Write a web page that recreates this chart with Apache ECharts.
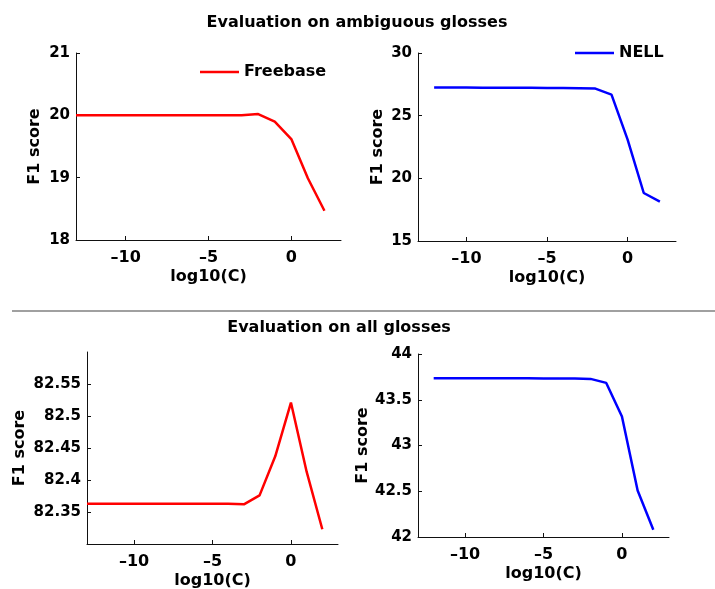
<!DOCTYPE html>
<html><head><meta charset="utf-8">
<script src="https://cdn.jsdelivr.net/npm/echarts@6/dist/echarts.min.js"></script>
<style>html,body{margin:0;padding:0;background:#fff}#c{width:715px;height:589px}</style>
</head><body><div id="c"></div>
<script>
// ---- data ----
const logCFreebase = [-13,-12,-11,-10,-9,-8,-7,-6,-5,-4,-3,-2,-1,0,1,2];
const logCNell = [-12,-11,-10,-9,-8,-7,-6,-5,-4,-3,-2,-1,0,1,2];
const freebaseAmbiguous = [20.0,20.0,20.0,20.0,20.0,20.0,20.0,20.0,20.0,20.0,20.0,20.02,19.9,19.62,18.99,18.47];
const nellAmbiguous = [27.24,27.24,27.24,27.23,27.23,27.23,27.22,27.21,27.2,27.18,27.16,26.68,23.09,18.83,18.14];
const freebaseAll = [82.363,82.363,82.363,82.363,82.363,82.363,82.363,82.363,82.363,82.363,82.362,82.376,82.437,82.521,82.413,82.323];
const nellAll = [43.735,43.735,43.735,43.735,43.735,43.734,43.734,43.733,43.732,43.731,43.728,43.684,43.316,42.509,42.08];
const xTicks = [-10,-5,0];
const yTicksFbAmb = [18,19,20,21];
const yTicksNellAmb = [15,20,25,30];
const yTicksFbAll = [82.35,82.4,82.45,82.5,82.55];
const yTicksNellAll = [42,42.5,43,43.5,44];
const titles = ['Evaluation on ambiguous glosses','Evaluation on all glosses'];
const seriesNames = ['Freebase','NELL'];
const xName = 'log10(C)';
const yName = 'F1 score';

// ---- chart ----
const FONT = 'DejaVu Sans';
const txt = {fontFamily: FONT, fontWeight: 'bold', fontSize: 15, color: '#000'};
const txt16 = Object.assign({}, txt, {fontSize: 16});
const chart = echarts.init(document.getElementById('c'), null, {renderer: 'canvas'});
const zip = (xs, ys) => xs.map((x, i) => [x, ys[i]]);

const grids = [
  {left: 76, top: 53, width: 265, height: 187},
  {left: 418, top: 53, width: 258, height: 188},
  {left: 87, top: 352, width: 251, height: 192},
  {left: 418, top: 354, width: 251, height: 183}
].map(g => Object.assign({outerBoundsMode: 'none', containLabel: false, show: false}, g));

const yConf = [
  {min: 18, max: 21, ticks: yTicksFbAmb, gap: 33.5},
  {min: 15, max: 30, ticks: yTicksNellAmb, gap: 32.5},
  {min: 82.3, max: 82.6, ticks: yTicksFbAll, gap: 59},
  {min: 42, max: 44, ticks: yTicksNellAll, gap: 47}
];

const axisLine = {show: true, onZero: false, lineStyle: {color: '#111', width: 1}};
const axisTick = (vals) => ({show: true, inside: true, length: 4, customValues: vals, lineStyle: {color: '#111', width: 1}});

const xAxes = [0,1,2,3].map(i => ({
  type: 'value', gridIndex: i, min: -13, max: 3,
  name: xName, nameLocation: 'middle', nameGap: 29, nameTextStyle: txt16,
  axisLine, axisTick: axisTick(xTicks), splitLine: {show: false},
  axisLabel: Object.assign({margin: 10, customValues: xTicks,
    formatter: v => String(v).replace('-', '\u2013')}, txt16)
}));

const yAxes = yConf.map((c, i) => ({
  type: 'value', gridIndex: i, min: c.min, max: c.max,
  name: yName, nameLocation: 'middle', nameRotate: 90, nameGap: c.gap, nameTextStyle: txt16,
  axisLine, axisTick: axisTick(c.ticks), splitLine: {show: false},
  axisLabel: Object.assign({margin: 6, customValues: c.ticks}, txt)
}));

const mk = (name, i, xs, ys, color) => ({
  name, type: 'line', xAxisIndex: i, yAxisIndex: i, data: zip(xs, ys),
  symbol: 'none', clip: true, color,
  lineStyle: {width: 2.5, color}, emphasis: {disabled: true}, animation: false
});

chart.setOption({
  backgroundColor: '#fff',
  animation: false,
  title: [
    {text: titles[0], left: 357, textAlign: 'center', top: 15, padding: 0, textStyle: txt16},
    {text: titles[1], left: 339, textAlign: 'center', top: 320, padding: 0, textStyle: txt16}
  ],
  legend: [
    {data: [seriesNames[0]], left: 200, top: 64, padding: 0, icon: 'rect', itemWidth: 39, itemHeight: 2.5,
     textStyle: txt16, selectedMode: false},
    {data: [seriesNames[1]], left: 575, top: 45, padding: 0, icon: 'rect', itemWidth: 39, itemHeight: 2.5,
     textStyle: txt16, selectedMode: false}
  ],
  grid: grids,
  xAxis: xAxes,
  yAxis: yAxes,
  series: [
    mk(seriesNames[0], 0, logCFreebase, freebaseAmbiguous, '#ff0000'),
    mk(seriesNames[1], 1, logCNell, nellAmbiguous, '#0000ff'),
    mk(seriesNames[0], 2, logCFreebase, freebaseAll, '#ff0000'),
    mk(seriesNames[1], 3, logCNell, nellAll, '#0000ff')
  ],
  graphic: [
    {type: 'line', shape: {x1: 12, y1: 311, x2: 715, y2: 311}, style: {stroke: '#808080', lineWidth: 1.5}, silent: true}
  ]
});
</script></body></html>
